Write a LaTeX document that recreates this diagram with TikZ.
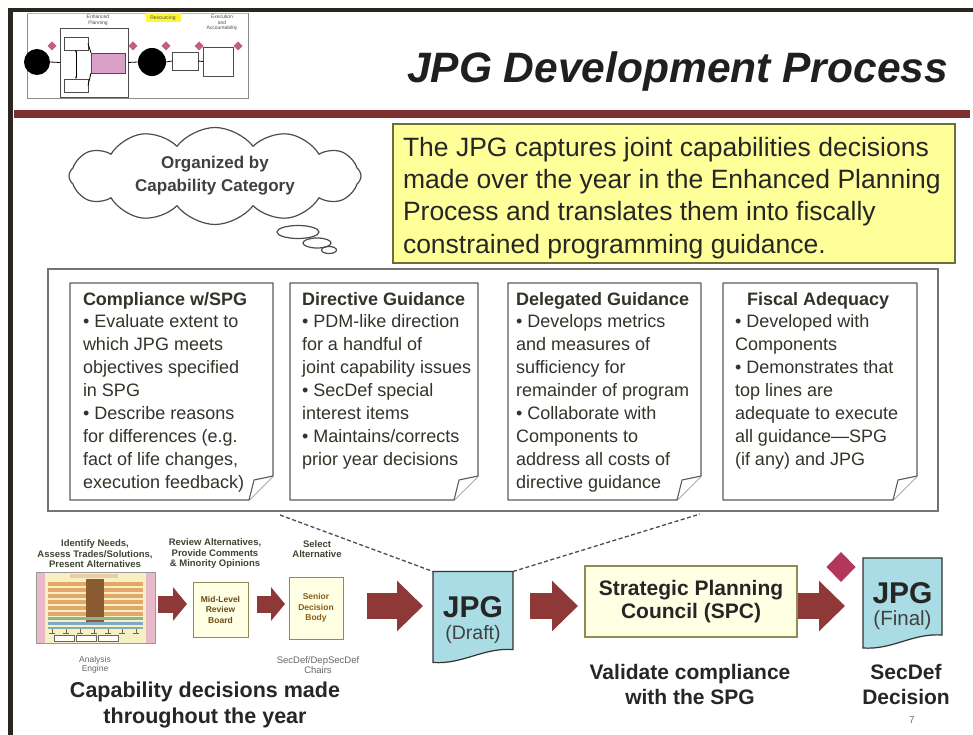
\documentclass[tikz,border=0pt]{standalone}
\usepackage{fontspec}
\setmainfont{Liberation Sans}
\usetikzlibrary{shapes.symbols,shapes.geometric,arrows.meta,calc}

\definecolor{framedark}{HTML}{2B2520}
\definecolor{rulered}{HTML}{7E3030}
\definecolor{arrowred}{HTML}{8E3838}
\definecolor{noteink}{HTML}{33332A}
\definecolor{boxline}{HTML}{5A5A5A}
\definecolor{sticky}{HTML}{FFFF99}
\definecolor{stickyline}{HTML}{6E6E3C}
\definecolor{docfill}{HTML}{A9DCE4}
\definecolor{gemred}{HTML}{B3375A}
\definecolor{palebox}{HTML}{FFFFE4}
\definecolor{paleline}{HTML}{8C8C55}
\definecolor{boardink}{HTML}{6A4A18}
\definecolor{seniorink}{HTML}{8A5A1A}
\definecolor{labelink}{HTML}{3E4630}
\definecolor{enginebg}{HTML}{F6F0C4}
\definecolor{enginepink}{HTML}{E7B9C9}
\definecolor{enginetan}{HTML}{E3A868}
\definecolor{enginebrown}{HTML}{8A5A30}
\definecolor{enginegreen}{HTML}{8DB58A}
\definecolor{engineblue}{HTML}{7FA8C8}
\definecolor{thumbpink}{HTML}{D9A0C8}

\newcommand\fs[2]{\fontsize{#1}{#2}\selectfont}

% folded-corner outline around a named note area
\newcommand\foldnote[1]{%
  \draw[noteframe] (#1.north west) -- (#1.north east)
    -- ($(#1.south east)+(0,-24)$) -- ($(#1.south east)+(-24,0)$)
    -- (#1.south west) -- cycle;
  \draw[noteframe] ($(#1.south east)+(0,-24)$)
    .. controls ($(#1.south east)+(-9,-22)$) .. ($(#1.south east)+(-19,-20)$)
    -- ($(#1.south east)+(-24,0)$);
}

% wavy-bottom document outline around a named area
\newcommand\docshape[1]{%
  \draw[docstyle] (#1.north west) -- (#1.north east) -- ($(#1.south east)+(0,-13)$)
    .. controls ($(#1.south east)+(-30,-15)$) and ($(#1.south west)+(30,2)$)
    .. (#1.south west) -- cycle;
}

\begin{document}
\begin{tikzpicture}[x=1pt,y=-1pt,
  every node/.style={inner sep=0pt, outer sep=0pt},
  notearea/.style={anchor=north west, minimum width=#1, minimum height=217},
  noteframe/.style={draw=boxline, line width=1.1, fill=white, line join=round},
  notebody/.style={anchor=north west, align=left, text=noteink, font=\fs{18}{22.9}},
  docstyle/.style={draw=black!80, line width=1.2, fill=docfill},
  doctitle/.style={anchor=base, font=\fs{30}{30}\bfseries, text=black!85},
  docsub/.style={anchor=base, text=black!75},
  caption/.style={align=center, font=\fs{21}{25}\bfseries, text=black!85},
  smalllabel/.style={align=center, font=\fs{9.5}{10.5}\bfseries, text=labelink},
  greylabel/.style={align=center, font=\fs{8.5}{9.5}, text=black!60},
  boardbox/.style={draw=paleline, line width=0.9, fill=palebox, align=center,
    font=\fs{8.5}{10.5}\bfseries},
  bigarrow/.style={draw=arrowred, line width=26, -{Triangle[length=26,width=49]}},
  smallarrow/.style={draw=arrowred, line width=17, -{Triangle[length=14,width=33]}},
  dashline/.style={draw=black!70, line width=1.3, dash pattern=on 4pt off 2.5pt},
  thumbbox/.style={draw=black!70, line width=0.6, fill=white},
  thumbgem/.style={diamond, fill=gemred!80, minimum width=9, minimum height=9},
  thumbtext/.style={align=center, font=\fs{5}{5.5}, text=black!70}
]
\useasboundingbox (0,0) rectangle (973,735);
\fill[white] (0,0) rectangle (973,735);

% page frame and header rule
\fill[framedark] (8,8) rectangle (973,12);
\fill[framedark] (8,8) rectangle (13,735);
\fill[rulered] (14,110) rectangle (970,118);

% process thumbnail in the header
\draw[black!45, line width=0.6] (27,13) rectangle (248,98);
\draw[thumbpink, line width=1.2] (27,13.5) -- (248,13.5);
\node[thumbtext] (tEP) at (98,20) {Enhanced\\Planning};
\fill[yellow!80] (146,13) rectangle (181,22);
\node[thumbtext] (tRS) at (163,18) {Resourcing};
\node[thumbtext] (tEA) at (222,23) {Execution\\and\\Accountability};
\fill[black] (37,62) circle (13);
\fill[black] (152,62) circle (14);
\node[thumbbox, minimum width=68, minimum height=69, anchor=north west] (tbig) at (60,28) {};
\node[thumbbox, minimum width=24, minimum height=13, anchor=north west] (tb1) at (64,37) {};
\node[thumbbox, minimum width=24, minimum height=13, anchor=north west] (tb2) at (64,79) {};
\node[thumbbox, fill=thumbpink, minimum width=34, minimum height=20, anchor=north west] (tb3) at (91,53) {};
\node[thumbbox, minimum width=26, minimum height=18, anchor=north west] (tb4) at (172,52) {};
\node[thumbbox, minimum width=30, minimum height=29, anchor=north west] (tb5) at (203,47) {};
\draw[black, line width=0.8, {Stealth[length=2.5]}-{Stealth[length=2.5]}] (tb1) -- (tb2);
\draw[black, line width=0.8] (tb1.east) -- (tb3.north west);
\draw[black, line width=0.8] (tb2.east) -- (tb3.south west);
\draw[black, line width=0.8] (50,62) -- (tbig.west);
\draw[black, line width=0.8] (tbig.east) -- (138,62);
\draw[black, line width=0.8] (166,62) -- (tb4.west);
\draw[black, line width=0.8] (tb4.east) -- (tb5.west);
\foreach \gx in {52,133,166,199,238} {\node[thumbgem] at (\gx,46) {};}

% slide title
\node[anchor=base east, font=\fs{42.5}{42.5}\bfseries\itshape, text=black!88] (title)
  at (948,83) {JPG Development Process};

% thought cloud
\node[cloud, cloud puffs=12, cloud puff arc=105, aspect=3.2, draw=black!70, line width=1.2,
  fill=white, minimum width=292, minimum height=90, align=center,
  font=\fs{17}{23}\bfseries, text=black!75] (cloud) at (215,176)
  {Organized by\\Capability Category};
\draw[black!70, line width=1.2] (298,232) ellipse [x radius=21, y radius=6.5];
\draw[black!70, line width=1.2] (317,243) ellipse [x radius=14, y radius=5];
\draw[black!70, line width=1.2] (329,250) ellipse [x radius=7.5, y radius=3.5];

% summary box
\node[draw=stickyline, line width=1.2, fill=sticky, anchor=north west,
  minimum width=562, minimum height=139] (ybox) at (393,124) {};
\node[anchor=north west, align=left, font=\fs{26.5}{32.3}, text=black!85] (ytext) at (403,137)
  {The JPG captures joint capabilities decisions\\
   made over the year in the Enhanced Planning\\
   Process and translates them into fiscally\\
   constrained programming guidance.};

% container of the four guidance notes
\node[draw=boxline!85, line width=1.3, anchor=north west,
  minimum width=890, minimum height=242] (frame) at (48,269) {};

\node[notearea=203] (n1) at (70,283) {};
\node[notearea=188] (n2) at (290,283) {};
\node[notearea=193] (n3) at (508,283) {};
\node[notearea=194] (n4) at (723,283) {};
\foldnote{n1}\foldnote{n2}\foldnote{n3}\foldnote{n4}

\node[notebody] (t1) at (83,292) {{\bfseries Compliance w/SPG}\\
  • Evaluate extent to\\which JPG meets\\objectives specified\\in SPG\\
  • Describe reasons\\for differences (e.g.\\fact of life changes,\\execution feedback)};
\node[notebody] (t2) at (302,292) {{\bfseries Directive Guidance}\\
  • PDM-like direction\\for a handful of\\joint capability issues\\
  • SecDef special\\interest items\\• Maintains/corrects\\prior year decisions};
\node[notebody] (t3) at (516,292) {{\bfseries Delegated Guidance}\\
  • Develops metrics\\and measures of\\sufficiency for\\remainder of program\\
  • Collaborate with\\Components to\\address all costs of\\directive guidance};
\node[notebody] (t4) at (735,292) {\hspace*{12pt}{\bfseries Fiscal Adequacy}\\
  • Developed with\\Components\\• Demonstrates that\\top lines are\\
  adequate to execute\\all guidance—SPG\\(if any) and JPG};

% analysis engine miniature
\node[draw=black!40, line width=0.6, fill=enginebg, anchor=north west,
  minimum width=119, minimum height=71] (engine) at (36,572) {};
\fill[enginepink] (36.5,572.5) rectangle (45,642.5);
\fill[enginepink] (146,572.5) rectangle (154.5,642.5);
\fill[enginetan!60] (70,574) rectangle (118,578);
\foreach \yy in {582,588,594,600,606,612} {\fill[enginetan] (48,\yy) rectangle (143,\yy+3.5);}
\fill[enginebrown] (86,579) rectangle (104,624);
\fill[enginegreen] (48,617) rectangle (143,620);
\fill[engineblue] (48,622) rectangle (143,625);
\fill[enginegreen!60!engineblue] (48,626.5) rectangle (143,628.5);
\foreach \xx in {52,66,80,94,108,122,136}
  {\draw[black!60, line width=0.8] (\xx,629) -- (\xx,633) (\xx-3,633) -- (\xx+3,633);}
\foreach \xx in {54,76,98}
  {\draw[black!60, line width=0.6, fill=white] (\xx,635) rectangle (\xx+20,641);}

% decision boards
\node[boardbox, minimum width=55, minimum height=55, text=boardink] (mid) at (220.5,609.5)
  {Mid-Level\\Review\\Board};
\node[boardbox, minimum width=54, minimum height=62, text=seniorink] (senior) at (316,608)
  {Senior\\Decision\\Body};

\node[smalllabel] (labA) at (95,554) {Identify Needs,\\Assess Trades/Solutions,\\Present Alternatives};
\node[smalllabel] (labB) at (215,554) {Review Alternatives,\\Provide Comments\\\& Minority Opinions};
\node[smalllabel] (labC) at (317,549) {Select\\Alternative};
\node[greylabel] (labD) at (95,665) {Analysis\\Engine};
\node[greylabel, font=\fs{9.5}{10}] (labE) at (318,665) {SecDef/DepSecDef\\Chairs};
\node[caption, font=\fs{21.5}{26}\bfseries] (capA) at (205,705)
  {Capability decisions made\\throughout the year};

% JPG draft and final documents
\node[minimum width=80, minimum height=91] (draft) at (473,617) {};
\docshape{draft}
\node[doctitle] (draftT) at (473,617) {JPG};
\node[docsub, font=\fs{19.5}{19.5}] (draftS) at (473,639) {(Draft)};

\node[draw=paleline, line width=1.2, fill=palebox, minimum width=212, minimum height=71,
  align=center, font=\fs{21}{23}\bfseries, text=black!85] (spc) at (691,601.5)
  {Strategic Planning\\Council (SPC)};
\node[caption] (capB) at (690,684) {Validate compliance\\with the SPG};

\node[minimum width=79, minimum height=90] (final) at (902.5,603) {};
\docshape{final}
\node[doctitle] (finalT) at (902.5,603) {JPG};
\node[docsub, font=\fs{20.5}{20.5}] (finalS) at (902.5,625) {(Final)};
\node[diamond, fill=gemred, minimum width=29, minimum height=30] (gem) at (841,567) {};
\node[caption] (capC) at (906,684) {SecDef\\Decision};

\node[font=\fs{10}{10}, text=black!55] (pageno) at (912,720) {7};

% block arrows along the flow
\coordinate (smallrow) at (0,604);
\coordinate (bigrow) at (0,606);
\draw[smallarrow, shorten <=3, shorten >=6] (engine.east |- smallrow) -- (mid.west |- smallrow);
\draw[smallarrow, shorten <=9, shorten >=4] (mid.east |- smallrow) -- (senior.west |- smallrow);
\draw[bigarrow, shorten <=24, shorten >=10] (senior.east |- bigrow) -- (draft.west |- bigrow);
\draw[bigarrow, shorten <=17, shorten >=7] (draft.east |- bigrow) -- (spc.west |- bigrow);
\draw[bigarrow, shorten <=1, shorten >=18] (spc.east |- bigrow) -- (final.west |- bigrow);

% dashed links from the notes to the draft
\coordinate (dashL) at (280,515);
\coordinate (dashR) at (700,514);
\draw[dashline] (dashL) -- (draft.north west);
\draw[dashline] (draft.north east) -- (dashR);
\end{tikzpicture}
\end{document}
